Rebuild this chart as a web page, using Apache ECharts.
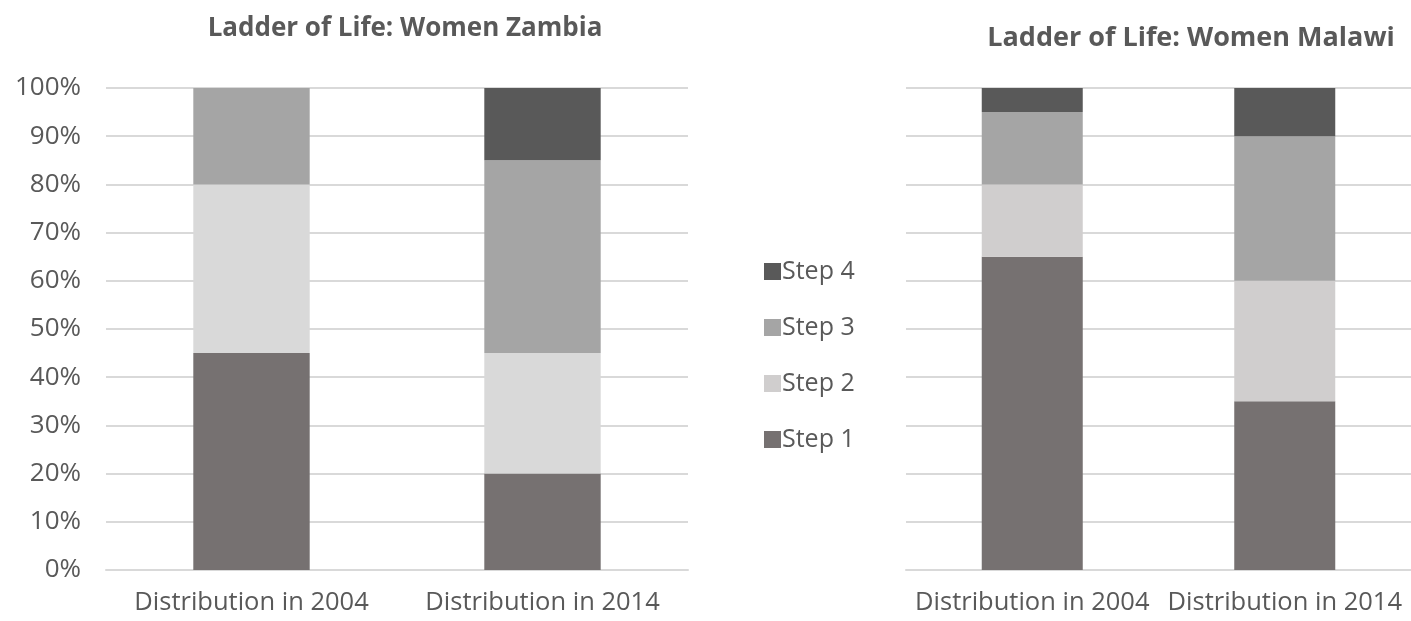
<!DOCTYPE html>
<html>
<head>
<meta charset="utf-8">
<script src="https://cdn.jsdelivr.net/npm/echarts@6/dist/echarts.min.js"></script>
<style>html,body{margin:0;padding:0;background:#fff;}#c{width:1411px;height:621px;}</style>
</head>
<body>
<div id="c"></div>
<script>
const categories = ['Distribution in 2004', 'Distribution in 2014'];
const stepNames = ['Step 1', 'Step 2', 'Step 3', 'Step 4'];
const zambiaStep1 = [45, 20];
const zambiaStep2 = [35, 25];
const zambiaStep3 = [20, 40];
const zambiaStep4 = [0, 15];
const malawiStep1 = [65, 35];
const malawiStep2 = [15, 25];
const malawiStep3 = [15, 30];
const malawiStep4 = [5, 10];
const yTicks = [0, 10, 20, 30, 40, 50, 60, 70, 80, 90, 100];

const colors = ['#767171', '#d9d9d9', '#a5a5a5', '#595959'];
const colorsMalawi = ['#767171', '#d0cece', '#a5a5a5', '#595959'];
const font = '"Open Sans", "Noto Sans", sans-serif';
const textColor = '#595959';

const chart = echarts.init(document.getElementById('c'));
const zData = [zambiaStep1, zambiaStep2, zambiaStep3, zambiaStep4];
const mData = [malawiStep1, malawiStep2, malawiStep3, malawiStep4];

const series = [];
stepNames.forEach((n, i) => {
  series.push({name: n, type: 'bar', stack: 'z', xAxisIndex: 0, yAxisIndex: 0,
    barWidth: '40%', data: zData[i], itemStyle: {color: colors[i]}});
});
stepNames.forEach((n, i) => {
  series.push({name: n, type: 'bar', stack: 'm', xAxisIndex: 1, yAxisIndex: 1,
    barWidth: '40%', data: mData[i], itemStyle: {color: colorsMalawi[i]}});
});

function yAxis(grid, show) {
  return {type: 'value', gridIndex: grid, min: yTicks[0], max: yTicks[yTicks.length-1], interval: 10,
    axisLabel: {show: show, formatter: v => v + '%', color: textColor, fontSize: 26, fontFamily: font, margin: 25},
    axisLine: {show: false}, axisTick: {show: false},
    splitLine: {lineStyle: {color: '#d9d9d9', width: 2}}};
}
function xAxis(grid) {
  return {type: 'category', gridIndex: grid, data: categories,
    axisLabel: {interval: 0, color: textColor, fontSize: 25.5, fontFamily: font, margin: 20},
    axisLine: {lineStyle: {color: '#d9d9d9', width: 2}}, axisTick: {show: false}};
}

chart.setOption({
  animation: false,
  title: [
    {text: 'Ladder of Life: Women Zambia', left: 400, top: 11, textAlign: 'center',
      textStyle: {fontSize: 26, fontWeight: 'bold', color: textColor, fontFamily: font}},
    {text: 'Ladder of Life: Women Malawi', left: 1186, top: 20, textAlign: 'center',
      textStyle: {fontSize: 27, fontWeight: 'bold', color: textColor, fontFamily: font}}
  ],
  legend: {
    orient: 'vertical', left: 759, top: 254, itemWidth: 17, itemHeight: 17, itemGap: 31,
    icon: 'rect',
    textStyle: {fontSize: 25, color: textColor, fontFamily: font, padding: [0, 0, 0, -4]},
    data: [
      {name: 'Step 4', itemStyle: {color: colorsMalawi[3]}},
      {name: 'Step 3', itemStyle: {color: colorsMalawi[2]}},
      {name: 'Step 2', itemStyle: {color: colorsMalawi[1]}},
      {name: 'Step 1', itemStyle: {color: colorsMalawi[0]}}
    ]
  },
  grid: [
    {left: 106, width: 582, top: 88, height: 482},
    {left: 906, width: 512, top: 88, height: 482}
  ],
  xAxis: [xAxis(0), xAxis(1)],
  yAxis: [yAxis(0, true), yAxis(1, false)],
  series: series
});
</script>
</body>
</html>
